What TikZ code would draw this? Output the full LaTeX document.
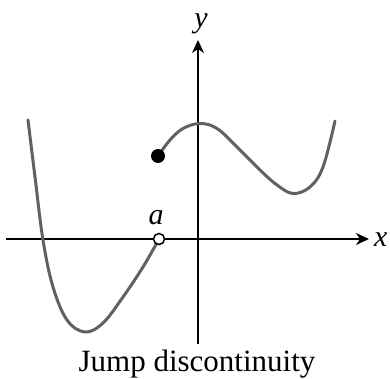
\documentclass[tikz,border=0pt]{standalone}
\usepackage{fontspec}
\setmainfont{Liberation Serif}
\usetikzlibrary{arrows.meta}
\begin{document}
\begin{tikzpicture}[x=1pt,y=-1pt,
  axis/.style={line width=1.7pt,-{Stealth[length=13pt,width=12pt,inset=4pt]}},
  curve/.style={line width=3pt,color=black!62,line cap=round},
  lbl/.style={font=\fontsize{30}{30}\selectfont\itshape,inner sep=0pt},
  opendot/.style={circle,draw=black,line width=1.5pt,fill=white,minimum size=11pt,inner sep=0pt},
  filldot/.style={circle,fill=black,minimum size=14pt,inner sep=0pt}]
\useasboundingbox (0,0) rectangle (390,379);
\coordinate (xs) at (6,239);
\coordinate (xe) at (369,239);
\coordinate (ys) at (198,344);
\coordinate (ye) at (198,40);
\draw[axis] (xs) -- (xe);
\draw[axis] (ys) -- (ye);
\node[lbl,anchor=west] (xl) at (374,240) {x};
\node[lbl] (yl) at (201,24) {y};
\node[lbl] (al) at (156,218) {a};
\draw[curve] plot[smooth,tension=0.6] coordinates {(28,120) (35,177) (43,240) (53,287) (67,320) (85,332) (103,323) (123,297) (143,267) (159,239)};
\draw[curve] plot[smooth,tension=0.6] coordinates {(158,156) (170,140) (183,128.5) (200,123.5) (217,128.5) (237,147) (260,170) (277,185) (293,193.5) (310,187) (323,167) (335,121)};
\node[opendot] (open) at (159,239) {};
\node[filldot] (closed) at (158,156) {};
\node[font=\fontsize{31}{31}\selectfont,inner sep=0pt,anchor=base] (cap) at (197,371.5) {Jump discontinuity};
\end{tikzpicture}
\end{document}
